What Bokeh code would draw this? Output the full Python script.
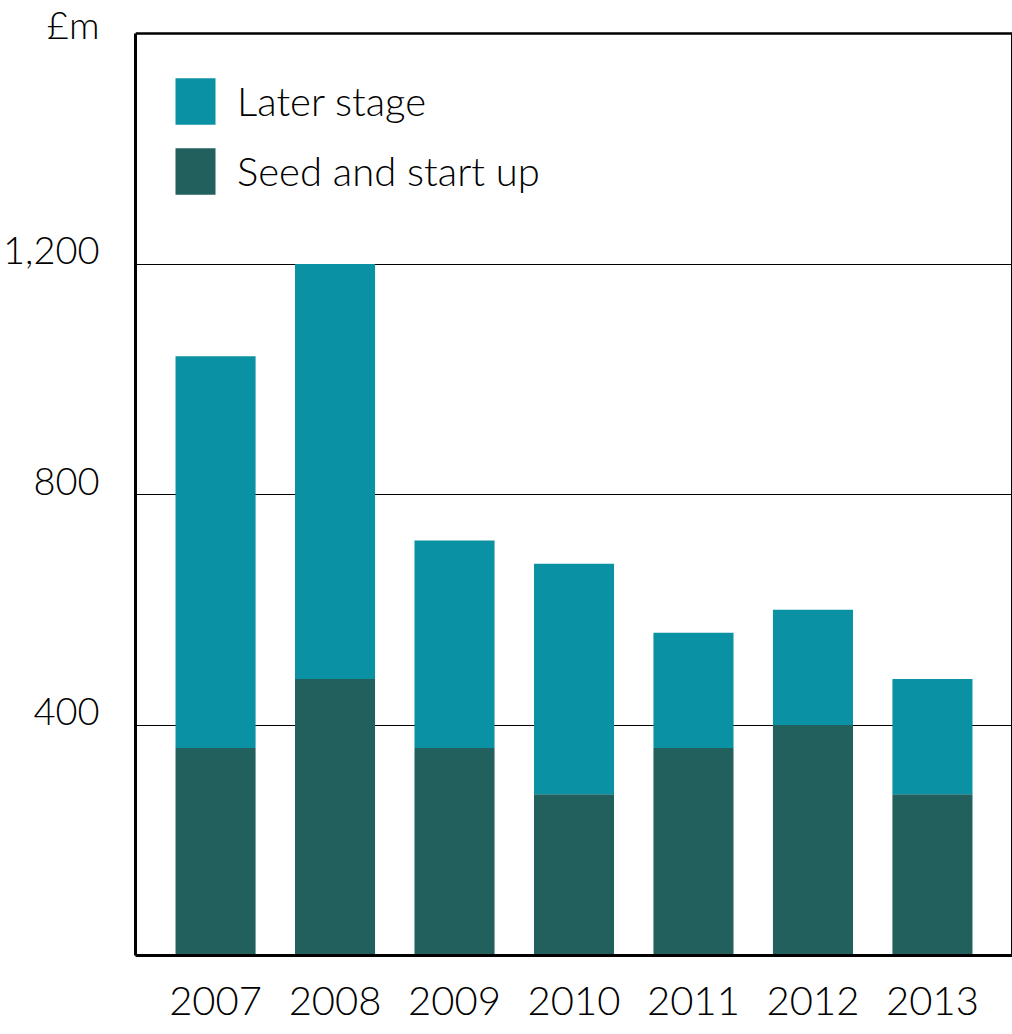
from bokeh.plotting import figure
from bokeh.models import (Range1d, FixedTicker, Legend, LegendItem, ColumnDataSource,
                          LinearAxis, Grid)
from bokeh.embed import file_html
from bokeh.resources import INLINE

# ---- data ----
years = ["2007", "2008", "2009", "2010", "2011", "2012", "2013"]
seed_start_up = [360, 480, 360, 280, 360, 400, 280]
later_stage = [680, 720, 360, 400, 200, 200, 200]
y_ticks = [400, 800, 1200]
y_tick_labels = ["400", "800", "1,200"]
unit_label = "£m"
y_max = 1600

FONT = "Lato Light"
FS = "40px"
C_LATER = "#0B91A4"
C_SEED = "#21605C"

# ---- layout constants (pixels) ----
BOX_TOP, BOX_H, BOTTOM = 33, 922, 79
y_top = y_max * (BOX_H + BOX_TOP) / BOX_H        # frame reaches the top of the page
label_shift = 15 * y_max / BOX_H                  # lift y labels ~15px above their lines

x = list(range(len(years)))
source = ColumnDataSource(dict(x=x, seed=seed_start_up, later=later_stage))

x_start = -0.67
p = figure(width=1012, height=1034, output_backend="svg", toolbar_location=None,
           x_range=Range1d(x_start, len(years) - 1 + 0.67), y_range=Range1d(0, y_top),
           y_axis_location=None,
           min_border_left=135, min_border_right=0, min_border_top=0, min_border_bottom=BOTTOM)
p.outline_line_color = None
p.background_fill_color = "white"
p.border_fill_color = "white"
for r in p.center:
    if isinstance(r, Grid):
        r.visible = False

rs = p.vbar_stack(["seed", "later"], x="x", width=0.67, color=[C_SEED, C_LATER],
                  line_width=0, source=source)

# gridlines and the top edge of the box
p.add_layout(Grid(dimension=1, ticker=FixedTicker(ticks=y_ticks),
                  grid_line_color="black", grid_line_width=1.2))
p.add_layout(Grid(dimension=1, ticker=FixedTicker(ticks=[y_max]),
                  grid_line_color="black", grid_line_width=2.5))

def style(ax):
    ax.major_tick_line_color = None
    ax.minor_tick_line_color = None
    ax.major_tick_out = 0
    ax.major_tick_in = 0
    ax.minor_tick_out = 0
    ax.minor_tick_in = 0
    ax.axis_line_color = "black"
    ax.axis_line_width = 3
    ax.major_label_text_font = FONT
    ax.major_label_text_font_size = FS
    ax.major_label_text_color = "black"

# left: labels (nudged range) + left edge of the box
p.extra_y_ranges = {"ylab": Range1d(-label_shift, y_top - label_shift)}
overrides = {t: l for t, l in zip(y_ticks, y_tick_labels)}
overrides[y_max] = unit_label
yax = LinearAxis(y_range_name="ylab", ticker=FixedTicker(ticks=y_ticks + [y_max]),
                 bounds=(-label_shift, y_max - label_shift),
                 major_label_overrides=overrides, major_label_standoff=36)
style(yax)
yax.major_label_text_font_size = "38px"
p.add_layout(yax, "left")

# right edge of the box
rax = LinearAxis(ticker=FixedTicker(ticks=[]), bounds=(0, y_max), major_label_standoff=0)
style(rax)
rax.major_label_text_font_size = "0px"
p.add_layout(rax, "right")

# x axis (bottom edge of the box)
p.xaxis.ticker = FixedTicker(ticks=x)
p.xaxis.major_label_overrides = {i: y for i, y in zip(x, years)}
p.xaxis.major_label_standoff = 31
style(p.xaxis[0])

legend = Legend(items=[LegendItem(label="Later stage", renderers=[rs[1]]),
                       LegendItem(label="Seed and start up", renderers=[rs[0]])],
                location=(35, 749), padding=0, margin=0, spacing=0,
                glyph_width=50, glyph_height=58, label_height=70, label_standoff=17,
                label_text_font=FONT, label_text_font_size=FS, label_text_color="black",
                border_line_color=None, background_fill_alpha=0)
p.add_layout(legend)

open("out.html", "w").write(file_html(p, INLINE))
